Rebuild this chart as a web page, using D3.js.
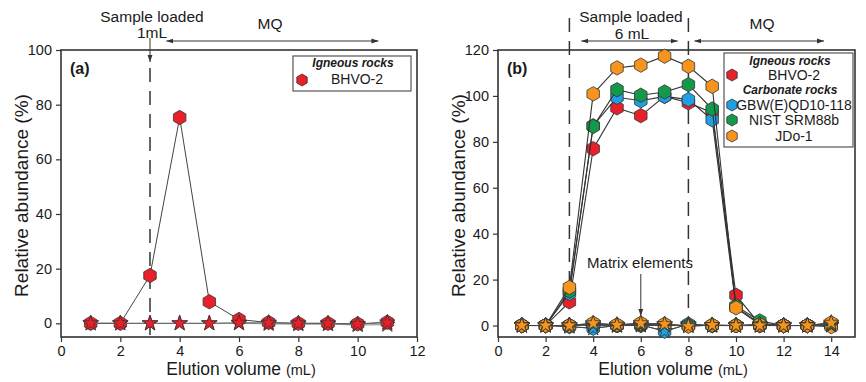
<!DOCTYPE html>
<html><head><meta charset="utf-8">
<script src="https://cdn.jsdelivr.net/npm/d3@7"></script>
<style>
body{margin:0;background:#fff;}
svg text{font-family:"Liberation Sans",Arial,sans-serif;fill:#1a1a1a;}
</style></head>
<body><svg id="c" width="866" height="382"></svg>
<script>
// ---------- DATA ----------
const xA = [1,2,3,4,5,6,7,8,9,10,11];
const bhvoA = [0,0,17.5,75.3,7.9,1.4,0.3,0,0,-0.2,0.4];
const matA1 = [0,0,0,0,0,0.2,0.2,0,0,-0.3,0.3];
const matA2 = [0,0,0,0,0,0,-0.2,-0.3,-0.3,-0.6,-0.5];

const xB = [1,2,3,4,5,6,7,8,9,10,11,12,13,14];
const bhvoB = [0,0,10.3,77,94.8,91.4,99.8,97,92.7,13.2,0.5,0,0,0];
const gbwB  = [0,0,14,87,99.4,97.9,99.8,98.4,89.6,8,1,0,0,0];
const nistB = [0,0,15,86.7,102.7,100.3,101.7,104.9,94.3,8.5,2,0,0,0];
const jdoB  = [0,0,16.6,100.9,112.2,113.4,117.3,112.9,104.2,7.7,0.5,0,0,-0.5];
const matBhvoB = [0,0,0,0.3,0,0,0,0,0,0,0,0,0,0];
const matGbwB  = [0,0,-0.5,-1.2,0,0.3,-2.5,0.6,0,0,0,0,0,0.3];
const matNistB = [0,0,0,0.5,0,0.5,0.3,0,0,0,0.5,0,0,0.5];
const matJdoB  = [0,0,0,1,0.3,1,0.6,-0.3,0.2,0,0,0,0,1.2];

const xTicksA = [0,2,4,6,8,10,12];
const yTicksA = [0,20,40,60,80,100];
const xTicksB = [0,2,4,6,8,10,12,14];
const yTicksB = [0,20,40,60,80,100,120];

const colRed="#e8202a", colBlue="#1ea0e2", colGreen="#14994a", colOrange="#f7941d";

// ---------- HELPERS ----------
const svg = d3.select("#c");
function hexPath(r){
  const pts=d3.range(6).map(i=>{const a=Math.PI/3*i-Math.PI/2;return [r*Math.cos(a),r*Math.sin(a)];});
  return d3.line()(pts)+"Z";
}
const starPath = d3.symbol().type(d3.symbolStar).size(75)();
const HEX = hexPath(7.2);
const HEXL = hexPath(6);

svg.append("defs").append("marker").attr("id","ah").attr("viewBox","0 0 10 10")
  .attr("refX",10).attr("refY",5).attr("markerWidth",7).attr("markerHeight",7)
  .attr("orient","auto-start-reverse").append("path").attr("d","M0,1.5L10,5L0,8.5Z").attr("fill","#333");

function panel(o){
  const g=svg.append("g");
  const x=d3.scaleLinear().domain(o.xd).range([o.l,o.r]);
  const y=d3.scaleLinear().domain(o.yd).range([o.b,o.t]);
  g.append("g").attr("transform",`translate(0,${o.b})`)
    .call(d3.axisBottom(x).tickValues(o.xt).tickSize(5).tickPadding(4))
    .call(a=>{a.select(".domain").remove();a.selectAll("text").attr("font-size",14.5).attr("fill","#1a1a1a").style("font-family","Liberation Sans, Arial");a.selectAll("line").attr("stroke","#333").attr("stroke-width",1.2);});
  g.append("g").attr("transform",`translate(${o.l},0)`)
    .call(d3.axisLeft(y).tickValues(o.yt).tickSize(5).tickPadding(4))
    .call(a=>{a.select(".domain").remove();a.selectAll("text").attr("font-size",14.5).attr("fill","#1a1a1a").style("font-family","Liberation Sans, Arial");a.selectAll("line").attr("stroke","#333").attr("stroke-width",1.2);});
  g.append("rect").attr("x",o.l).attr("y",o.t).attr("width",o.r-o.l).attr("height",o.b-o.t)
    .attr("fill","none").attr("stroke","#333").attr("stroke-width",1.6);
  const xl=g.append("text").attr("x",o.xlc).attr("y",375).attr("text-anchor","middle").attr("font-size",17.5);
  xl.append("tspan").text("Elution volume ");
  xl.append("tspan").attr("font-size",14.5).text("(mL)");
  g.append("text").attr("transform",`translate(${o.l-33},${(o.t+o.b)/2+2}) rotate(-90)`)
    .attr("text-anchor","middle").attr("font-size",19).text("Relative abundance (%)");
  g.append("text").attr("x",o.l+9).attr("y",o.t+24).attr("font-size",16).attr("font-weight","bold").text(o.tag);
  return {g,x,y};
}

function series(P,xs,ys,color,shape,lineColor,lw){
  const line=d3.line().x((d,i)=>P.x(xs[i])).y(d=>P.y(d));
  P.g.append("path").attr("d",line(ys)).attr("fill","none").attr("stroke",lineColor).attr("stroke-width",lw);
  P.g.selectAll(null).data(ys).enter().append("path")
    .attr("transform",(d,i)=>`translate(${P.x(xs[i])},${P.y(d)})`)
    .attr("d",shape).attr("fill",color).attr("stroke","#333").attr("stroke-width",0.8);
}
function dashed(P,xv,y0,y1){
  P.g.append("line").attr("x1",P.x(xv)).attr("x2",P.x(xv)).attr("y1",y0).attr("y2",y1)
    .attr("stroke","#333").attr("stroke-width",1.5).attr("stroke-dasharray","14,9");
}
function dblArrow(P,x0,x1,yy){
  P.g.append("line").attr("x1",P.x(x0)).attr("x2",P.x(x1)).attr("y1",yy).attr("y2",yy)
    .attr("stroke","#333").attr("stroke-width",1).attr("marker-start","url(#ah)").attr("marker-end","url(#ah)");
}
function txt(P,x,y,s,t){ P.g.append("text").attr("x",x).attr("y",y).attr("text-anchor","middle").attr("font-size",s).text(t); }

// ---------- PANEL A ----------
const A=panel({l:61,r:417,t:50,b:337,xd:[0,12],yd:[-5,100],xt:xTicksA,yt:yTicksA,tag:"(a)",xlc:241});
dashed(A,3,68,337);
A.g.append("line").attr("x1",A.x(3)).attr("x2",A.x(3)).attr("y1",38).attr("y2",62)
  .attr("stroke","#333").attr("stroke-width",1).attr("marker-end","url(#ah)");
txt(A,152,22,15.5,"Sample loaded");
txt(A,152,38,15.5,"1mL");
txt(A,270,29,15.5,"MQ");
dblArrow(A,3.55,10.7,41);
series(A,xA,matA2,colRed,starPath,"#888",1);
series(A,xA,bhvoA,colRed,HEX,"#444",1);
series(A,xA,matA1,colRed,starPath,"#666",1);
const lgA=A.g.append("g");
lgA.append("rect").attr("x",293).attr("y",56).attr("width",118).attr("height",35).attr("fill","#fff").attr("stroke","#555").attr("stroke-width",1.2);
lgA.append("text").attr("x",353).attr("y",67).attr("text-anchor","middle").attr("font-size",12).attr("font-weight","bold").attr("font-style","italic").text("Igneous rocks");
lgA.append("path").attr("transform","translate(302,80)").attr("d",HEXL).attr("fill",colRed).attr("stroke","#333").attr("stroke-width",0.8);
lgA.append("text").attr("x",357).attr("y",84).attr("text-anchor","middle").attr("font-size",14).text("BHVO-2");

// ---------- PANEL B ----------
const B=panel({l:498,r:855,t:50,b:337,xd:[0,15],yd:[-5,120],xt:xTicksB,yt:yTicksB,tag:"(b)",xlc:673});
dashed(B,3,18,337);
dashed(B,8,18,337);
txt(B,631,22,15.5,"Sample loaded");
txt(B,632,39,15.5,"6 mL");
txt(B,762,29,15.5,"MQ");
dblArrow(B,3.5,7.55,41);
dblArrow(B,8.25,13.7,41);
txt(B,640,268,15,"Matrix elements");
B.g.append("line").attr("x1",B.x(6)).attr("x2",B.x(6)).attr("y1",274).attr("y2",316)
  .attr("stroke","#333").attr("stroke-width",1).attr("marker-end","url(#ah)");

const samplesB=[[bhvoB,matBhvoB,colRed],[gbwB,matGbwB,colBlue],[nistB,matNistB,colGreen],[jdoB,matJdoB,colOrange]];
samplesB.forEach(([v,m,c])=>{
  series(B,xB,m,c,HEX,"#555",1);
  series(B,xB,v,c,HEX,"#333",1.1);
});
samplesB.forEach(([v,m,c])=>{ series(B,xB,m,c,starPath,"#444",1); });

const lgB=B.g.append("g");
lgB.append("rect").attr("x",724).attr("y",53).attr("width",129).attr("height",94).attr("fill","#fff").attr("stroke","#555").attr("stroke-width",1.2);
const legItems=[["Igneous rocks",null,65],["BHVO-2",colRed,80],["Carbonate rocks",null,94],["GBW(E)QD10-118",colBlue,110],["NIST SRM88b",colGreen,125],["JDo-1",colOrange,141]];
legItems.forEach(([t,c,yy])=>{
  if(c){
    lgB.append("path").attr("transform",`translate(732,${yy-5})`).attr("d",HEXL).attr("fill",c).attr("stroke","#333").attr("stroke-width",0.8);
    lgB.append("text").attr("x",794).attr("y",yy).attr("text-anchor","middle").attr("font-size",14).text(t);
  } else {
    lgB.append("text").attr("x",790).attr("y",yy).attr("text-anchor","middle").attr("font-size",12).attr("font-weight","bold").attr("font-style","italic").text(t);
  }
});
</script></body></html>
